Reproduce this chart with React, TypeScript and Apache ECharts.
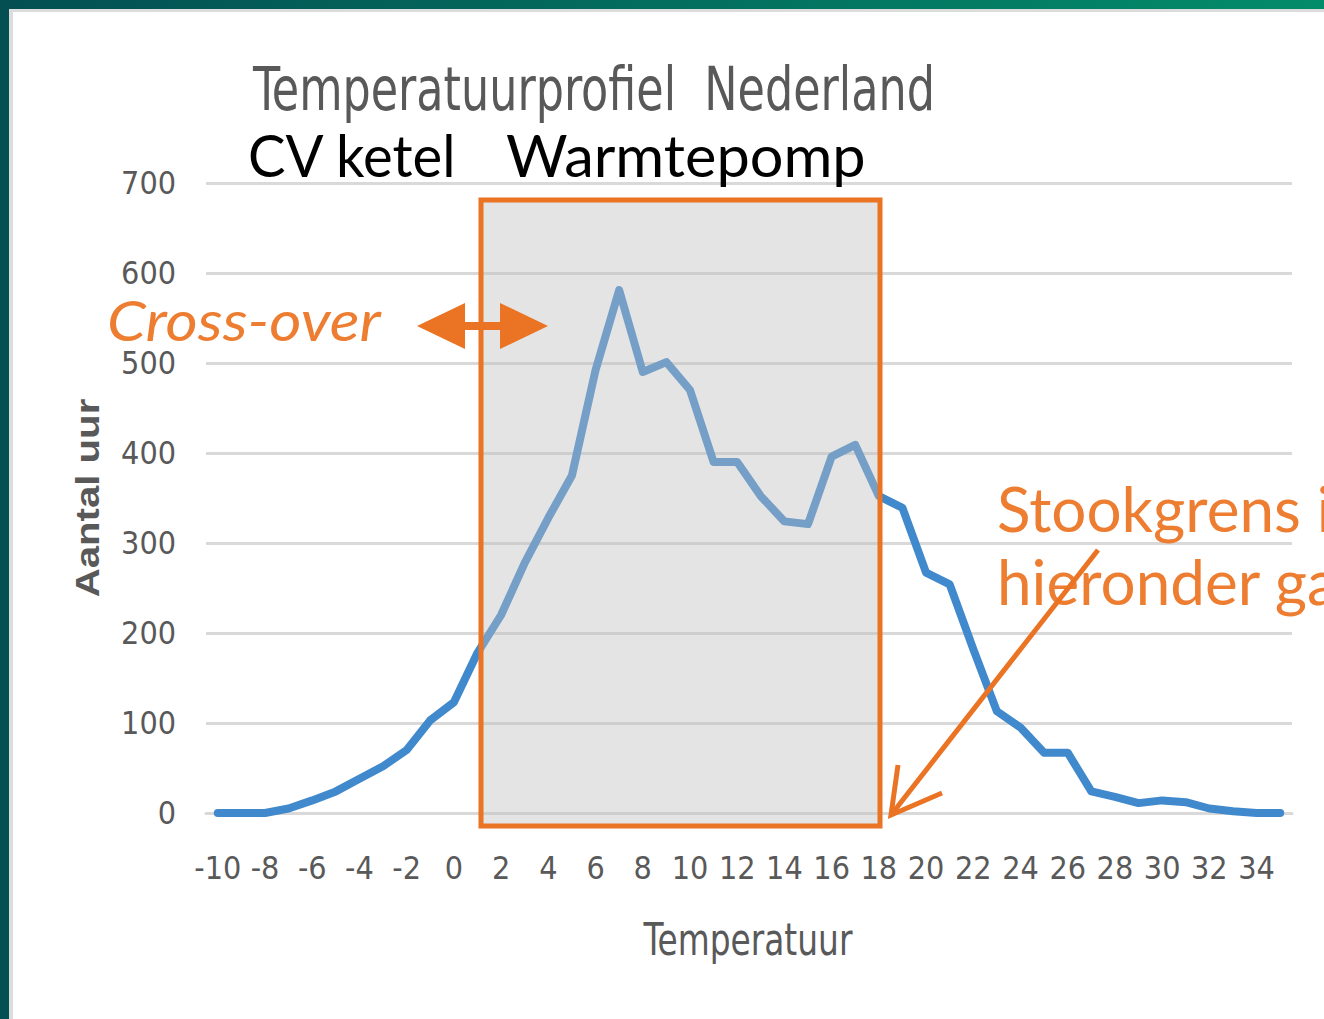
import React, { useEffect, useRef } from "react";
import * as echarts from "echarts";

const temperatures: number[] = [];
for (let t = -10; t <= 35; t++) temperatures.push(t);
const categories = temperatures.map(String);

const hours = [
  0, 0, 0, 5, 14, 24, 38, 52, 70, 103,
  123, 178, 220, 278, 328, 375, 492, 581, 490, 501,
  470, 390, 390, 352, 324, 321, 396, 409, 352, 339,
  267, 254, 182, 113, 95, 67, 67, 24, 18, 11,
  14, 12, 5, 2, 0, 0,
];

const yTicks = [0, 100, 200, 300, 400, 500, 600, 700];

const NARROW = '"Liberation Sans Narrow", "DejaVu Sans Condensed", sans-serif';
const SLIDE = 'Lato, "Noto Sans", sans-serif';
const ORANGE_TEXT = "#ed7d31";
const ORANGE = "#ea7324";
const GREY_TEXT = "#595959";

export default function App() {
  const ref = useRef<HTMLDivElement>(null);
  useEffect(() => {
    document.body.style.margin = "0";
    if (!ref.current) return;
    const chart = echarts.init(ref.current, undefined, { renderer: "svg" });
    chart.setOption({
      animation: false,
      backgroundColor: "#ffffff",
      grid: { left: 206, right: 32, top: 183, bottom: 206, containLabel: false },
      xAxis: {
        type: "category",
        data: categories,
        boundaryGap: true,
        axisLine: { show: true, lineStyle: { color: "#d9d9d9", width: 3 } },
        axisTick: { show: false },
        axisLabel: {
          interval: 1,
          color: GREY_TEXT,
          fontSize: 32,
          fontFamily: NARROW,
          margin: 39,
        },
      },
      yAxis: {
        type: "value",
        min: 0,
        max: 700,
        interval: 100,
        axisLine: { show: false },
        axisTick: { show: false },
        splitLine: { lineStyle: { color: "#d9d9d9", width: 3 } },
        axisLabel: {
          color: GREY_TEXT,
          fontSize: 32,
          fontFamily: NARROW,
          margin: 30,
          formatter: (v: number) => (yTicks.includes(v) ? String(v) : ""),
        },
      },
      series: [
        {
          type: "line",
          data: hours,
          symbol: "none",
          smooth: false,
          lineStyle: { color: "#4189cd", width: 8, cap: "round", join: "round" },
          z: 2,
        },
      ],
      graphic: [
        // frame
        {
          type: "rect",
          shape: { x: 0, y: 0, width: 1324, height: 9 },
          style: {
            fill: new echarts.graphic.LinearGradient(0, 0, 1, 0, [
              { offset: 0, color: "#034f52" },
              { offset: 1, color: "#038c6a" },
            ]),
          },
          z: 200,
        },
        { type: "rect", shape: { x: 0, y: 0, width: 9, height: 1019 }, style: { fill: "#034f52" }, z: 200 },
        { type: "rect", shape: { x: 9, y: 9, width: 1315, height: 3 }, style: { fill: "#dcdcdc" }, z: 199 },
        { type: "rect", shape: { x: 9, y: 9, width: 4, height: 1010 }, style: { fill: "#dcdcdc" }, z: 199 },
        // title
        {
          type: "text",
          x: 253,
          y: 89,
          scaleX: 0.824,
          style: {
            text: "Temperatuurprofiel  Nederland",
            fill: GREY_TEXT,
            font: `60px ${NARROW}`,
            textAlign: "left",
            textVerticalAlign: "middle",
          },
          z: 100,
        },
        // axis titles
        {
          type: "text",
          x: 748,
          y: 940,
          scaleX: 0.83,
          style: {
            text: "Temperatuur",
            fill: GREY_TEXT,
            font: `44px ${NARROW}`,
            textAlign: "center",
            textVerticalAlign: "middle",
          },
          z: 100,
        },
        {
          type: "text",
          x: 88,
          y: 498,
          rotation: Math.PI / 2,
          scaleX: 1.03,
          scaleY: 0.85,
          style: {
            text: "Aantal uur",
            fill: GREY_TEXT,
            font: `bold 39px "Liberation Sans", Arial, sans-serif`,
            textAlign: "center",
            textVerticalAlign: "middle",
          },
          z: 100,
        },
        {
          type: "text",
          x: 248,
          y: 155,
          scaleX: 0.97,
          style: { text: "CV ketel", fill: "#000000", font: `58px ${SLIDE}`, textAlign: "left", textVerticalAlign: "middle" },
          z: 100,
        },
        {
          type: "text",
          x: 506,
          y: 155,
          scaleX: 1.025,
          style: { text: "Warmtepomp", fill: "#000000", font: `58px ${SLIDE}`, textAlign: "left", textVerticalAlign: "middle" },
          z: 100,
        },
        // warmtepomp box
        {
          type: "rect",
          shape: { x: 481, y: 200, width: 399, height: 626 },
          style: { fill: "rgba(190,190,190,0.42)", stroke: ORANGE, lineWidth: 5 },
          z: 100,
        },
        // cross-over text & arrow
        {
          type: "text",
          x: 107,
          y: 320,
          scaleX: 1.11,
          style: {
            text: "Cross-over",
            fill: ORANGE_TEXT,
            font: `italic 56px ${SLIDE}`,
            lineHeight: 50,
            textAlign: "left",
            textVerticalAlign: "middle",
          },
          z: 100,
        },
        {
          type: "polygon",
          shape: {
            points: [
              [417, 326], [465, 303], [465, 322], [500, 322], [500, 303],
              [548, 326], [500, 349], [500, 330], [465, 330], [465, 349],
            ],
          },
          style: { fill: ORANGE },
          z: 101,
        },
        // stookgrens
        {
          type: "text",
          x: 997,
          y: 508,
          style: { text: "Stookgrens i", fill: ORANGE_TEXT, font: `62px ${SLIDE}`, textAlign: "left", textVerticalAlign: "middle" },
          z: 100,
        },
        {
          type: "text",
          x: 997,
          y: 581,
          style: { text: "hieronder ga", fill: ORANGE_TEXT, font: `62px ${SLIDE}`, textAlign: "left", textVerticalAlign: "middle" },
          z: 100,
        },
        {
          type: "line",
          shape: { x1: 1098, y1: 550, x2: 891, y2: 815 },
          style: { stroke: ORANGE, lineWidth: 5 },
          z: 102,
        },
        {
          type: "polyline",
          shape: { points: [[898, 765], [891, 815], [942, 793]] },
          style: { stroke: ORANGE, lineWidth: 5, fill: "none", lineJoin: "miter" },
          z: 102,
        },
      ],
    });
    return () => chart.dispose();
  }, []);
  return <div ref={ref} style={{ width: 1324, height: 1019, overflow: "hidden" }} />;
}
